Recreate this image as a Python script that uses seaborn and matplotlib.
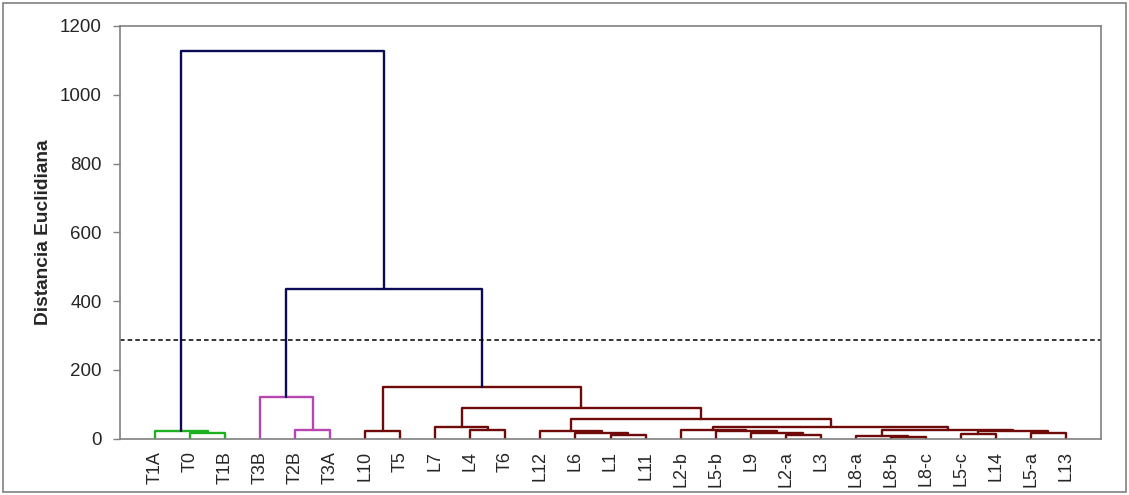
import matplotlib
matplotlib.use("Agg")
import matplotlib.pyplot as plt
from matplotlib.patches import Rectangle
import seaborn as sns

# Leaves in the order they appear on the x axis
leaves = ["T1A", "T0", "T1B", "T3B", "T2B", "T3A", "L10", "T5", "L7", "L4",
          "T6", "L12", "L6", "L1", "L11", "L2-b", "L5-b", "L9", "L2-a", "L3",
          "L8-a", "L8-b", "L8-c", "L5-c", "L14", "L5-a", "L13"]

# Merges: node name, left child, right child, height (Euclidean distance), group
node_names = ["n1", "n2", "n3", "n4", "n5", "n6", "n7", "n8", "n9", "n10",
              "n11", "n12", "n13", "n14", "n15", "n16", "n17", "n18", "n19",
              "n20", "n21", "n22", "n23", "n24", "n25", "n26"]
left_child = ["T0", "T1A", "T2B", "T3B", "L10", "L4", "L7", "L1", "L6", "L12",
              "L2-a", "L9", "L5-b", "L2-b", "L8-b", "L8-a", "L5-c", "L5-a",
              "n17", "n16", "n14", "n10", "n7", "n5", "n4", "n2"]
right_child = ["T1B", "n1", "T3A", "n3", "T5", "T6", "n6", "L11", "n8", "n9",
               "L3", "n11", "n12", "n13", "L8-c", "n15", "L14", "L13",
               "n18", "n19", "n20", "n21", "n22", "n23", "n24", "n25"]
merge_height = [17, 23, 25, 122, 23, 25, 33, 10, 15.5, 21.5,
                10, 15.5, 21, 24, 5, 9, 15, 17, 22,
                25, 34, 58, 89, 151, 436, 1128]
merge_group = ["A", "A", "B", "B", "C", "C", "C", "C", "C", "C",
               "C", "C", "C", "C", "C", "C", "C", "C", "C",
               "C", "C", "C", "C", "C", "top", "top"]

cut_level = 288

group_colors = {"A": "#1FB01F", "B": "#B846B0", "C": "#6E0A0A", "top": "#0A0A55"}

sns.set_style("white")
plt.rcParams["font.family"] = ["Liberation Sans", "DejaVu Sans"]

fig = plt.figure(figsize=(11.29, 4.95), dpi=100)
ax = fig.add_axes([120 / 1129, 1 - 438.7 / 495, 981 / 1129, 412.7 / 495])

# positions of nodes
pos = {name: (i, 0.0) for i, name in enumerate(leaves)}
for name, l, r, h, g in zip(node_names, left_child, right_child, merge_height, merge_group):
    xl, hl = pos[l]
    xr, hr = pos[r]
    sns.lineplot(x=[xl, xl, xr, xr], y=[hl, h, h, hr], sort=False, estimator=None,
                 color=group_colors[g], linewidth=1.7, ax=ax, legend=False)
    pos[name] = ((xl + xr) / 2, h)

ax.axhline(cut_level, color="black", linestyle=(0, (3, 2)), linewidth=1.1)

ax.set_xlim(-1, 27)
ax.set_ylim(0, 1200)
ax.set_xticks(range(len(leaves)))
ax.set_xticklabels(leaves, rotation=90, fontsize=13)
ax.set_yticks(range(0, 1201, 200))
ax.tick_params(axis="y", labelsize=13.5, length=5, width=1, color="#808080",
               left=True, pad=8)
ax.tick_params(axis="x", length=0, pad=9)
ax.set_xlabel("")
ax.set_ylabel("Distancia Euclidiana", fontsize=13.8, fontweight="bold")
ax.yaxis.set_label_coords(-0.069, 0.5)

for side in ["left", "right", "top", "bottom"]:
    ax.spines[side].set_visible(True)
    ax.spines[side].set_color("#808080")
    ax.spines[side].set_linewidth(1.2)

fig.patches.append(Rectangle((3 / 1129, 3 / 495), 1123 / 1129, 489 / 495,
                             transform=fig.transFigure, fill=False,
                             edgecolor="#808080", linewidth=1.2))

fig.savefig("out.png", dpi=100)
